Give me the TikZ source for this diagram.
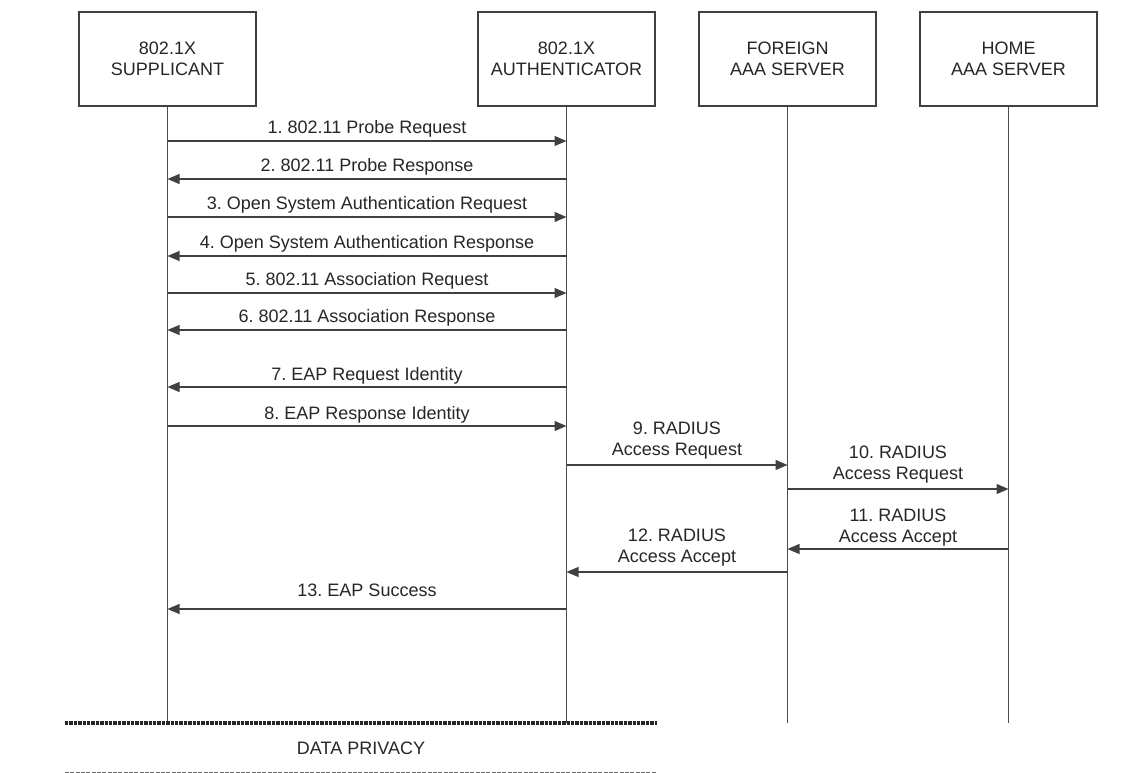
\documentclass[tikz,border=0pt]{standalone}
\usepackage{fontspec}
\setmainfont{Liberation Sans}
\usetikzlibrary{arrows.meta}
\frenchspacing

\tikzset{
  party/.style={draw=black!75, line width=0.8pt, minimum width=132.75pt, minimum height=70.5pt, align=center, inner sep=0.75pt},
  life/.style={draw=black!70, line width=0.8pt},
  msg/.style={draw=black!75, line width=0.8pt, -{Triangle[length=9pt,width=7.5pt]}},
  lbl/.style={anchor=base, yshift=5.25pt, inner sep=0.75pt},
  lbltwo/.style={anchor=south, yshift=4pt, inner sep=0pt, align=center},
  privtop/.style={draw=black!85, line width=2.4pt, dash pattern=on 2.5pt off 0.8pt},
  privbot/.style={draw=black!60, line width=0.6pt, dash pattern=on 3pt off 1pt},
}

\begin{document}
\begin{tikzpicture}[x=0.75pt,y=0.75pt,yscale=-1,xscale=1, font=\fontsize{13.5}{15.75}\selectfont, text=black!85]
\useasboundingbox (0,0) rectangle (1145,773);

% parties
\node [party] (sup) at (167.5,59) {802.1X\\SUPPLICANT};
\node [party] (auth) at (566.5,59) {802.1X\\AUTHENTICATOR};
\node [party] (faaa) at (787.5,59) {FOREIGN\\AAA SERVER};
\node [party] (haaa) at (1008.5,59) {HOME\\AAA SERVER};

% lifelines
\coordinate (supEnd) at (167.5,723);
\coordinate (authEnd) at (566.5,723);
\coordinate (faaaEnd) at (787.5,723);
\coordinate (haaaEnd) at (1008.5,723);
\draw [life] (sup) -- (supEnd);
\draw [life] (auth) -- (authEnd);
\draw [life] (faaa) -- (faaaEnd);
\draw [life] (haaa) -- (haaaEnd);

% messages
\coordinate (s1) at (167.5,141);  \coordinate (a1) at (566.5,141);
\coordinate (s2) at (167.5,179);  \coordinate (a2) at (566.5,179);
\coordinate (s3) at (167.5,217);  \coordinate (a3) at (566.5,217);
\coordinate (s4) at (167.5,256);  \coordinate (a4) at (566.5,256);
\coordinate (s5) at (167.5,293);  \coordinate (a5) at (566.5,293);
\coordinate (s6) at (167.5,330);  \coordinate (a6) at (566.5,330);
\coordinate (s7) at (167.5,387);  \coordinate (a7) at (566.5,387);
\coordinate (s8) at (167.5,426);  \coordinate (a8) at (566.5,426);
\coordinate (a9) at (566.5,465);  \coordinate (f9) at (787.5,465);
\coordinate (f10) at (787.5,489); \coordinate (h10) at (1008.5,489);
\coordinate (h11) at (1008.5,549); \coordinate (f11) at (787.5,549);
\coordinate (f12) at (787.5,572); \coordinate (a12) at (566.5,572);
\coordinate (a13) at (566.5,609); \coordinate (s13) at (167.5,609);

\draw [msg] (s1) -- node [lbl] {1. 802.11 Probe Request} (a1);
\draw [msg] (a2) -- node [lbl] {2. 802.11 Probe Response} (s2);
\draw [msg] (s3) -- node [lbl] {3. Open System Authentication Request} (a3);
\draw [msg] (a4) -- node [lbl] {4. Open System Authentication Response} (s4);
\draw [msg] (s5) -- node [lbl] {5. 802.11 Association Request} (a5);
\draw [msg] (a6) -- node [lbl] {6. 802.11 Association Response} (s6);
\draw [msg] (a7) -- node [lbl] {7. EAP Request Identity} (s7);
\draw [msg] (s8) -- node [lbl] {8. EAP Response Identity} (a8);
\draw [msg] (a9) -- node [lbltwo] {9. RADIUS\\Access Request} (f9);
\draw [msg] (f10) -- node [lbltwo] {10. RADIUS\\Access Request} (h10);
\draw [msg] (h11) -- node [lbltwo, yshift=-2pt] {11. RADIUS\\Access Accept} (f11);
\draw [msg] (f12) -- node [lbltwo] {12. RADIUS\\Access Accept} (a12);
\draw [msg] (a13) -- node [lbl, yshift=4.5pt] {13. EAP Success} (s13);

% data privacy
\coordinate (privTL) at (65,723);  \coordinate (privTR) at (657,723);
\coordinate (privBL) at (65,772);  \coordinate (privBR) at (657,772);
\draw [privtop] (privTL) -- (privTR);
\node (priv) at (361,748) {DATA PRIVACY};
\draw [privbot] (privBL) -- (privBR);

\end{tikzpicture}
\end{document}
